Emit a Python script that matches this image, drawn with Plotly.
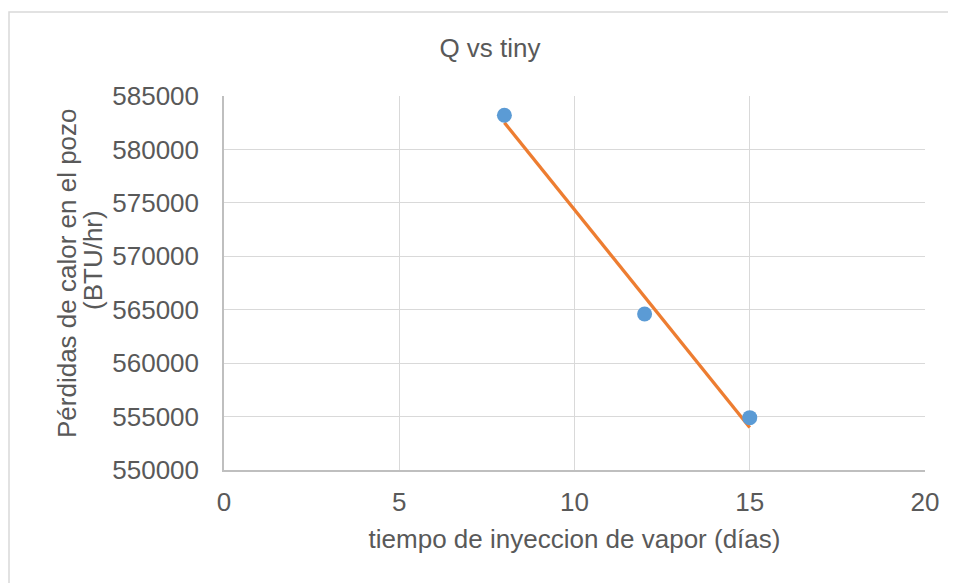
import numpy as np
import plotly.graph_objects as go

# Data
x_days = [8, 12, 15]
q_loss = [583200, 564600, 554900]

title_text = "Q vs tiny"
x_title = "tiempo de inyeccion de vapor (días)"
y_title_lines = ["Pérdidas de calor en el pozo", "(BTU/hr)"]

x_ticks = [0, 5, 10, 15, 20]
y_ticks = [550000, 555000, 560000, 565000, 570000, 575000, 580000, 585000]

# Linear trendline (least squares) from the data
slope, intercept = np.polyfit(x_days, q_loss, 1)
trend_x = [min(x_days), max(x_days)]
trend_y = [slope * v + intercept for v in trend_x]

# page body has an 8px margin, so the figure is sized/offset to compensate
W, H = 948, 575
L, R, T, B = 216, 31, 88, 113
pw, ph = W - L - R, H - T - B

FONT = "Liberation Sans, Arial, sans-serif"
TXT = "#595959"
FS = 26

fig = go.Figure()
fig.add_trace(go.Scatter(x=trend_x, y=trend_y, mode="lines",
                         line=dict(color="#ED7D31", width=3.3), showlegend=False))
fig.add_trace(go.Scatter(x=x_days, y=q_loss, mode="markers",
                         marker=dict(color="#5B9BD5", size=15), showlegend=False))

def px_x(p):
    return (p - L) / pw

def px_y(p):
    return (H - B - p) / ph

annotations = []
for xc, yc, txt in zip([59, 85], [265, 252], y_title_lines):
    annotations.append(dict(text=txt, xref="paper", yref="paper",
                            x=px_x(xc), y=px_y(yc), xanchor="center", yanchor="middle",
                            textangle=-90, showarrow=False,
                            font=dict(family=FONT, size=FS, color=TXT)))

fig.update_layout(
    width=W, height=H,
    margin=dict(l=L, r=R, t=T, b=B),
    paper_bgcolor="white", plot_bgcolor="white",
    font=dict(family=FONT, size=FS, color=TXT),
    title=dict(text=title_text, x=482 / W, xanchor="center",
               y=1 - 40 / H, yanchor="middle",
               font=dict(family=FONT, size=FS, color=TXT)),
    xaxis=dict(range=[0, 20], tickvals=x_ticks, showgrid=True, gridcolor="#D9D9D9",
               gridwidth=1, zeroline=False, showline=True, linecolor="#BFBFBF",
               linewidth=1.5, ticks="", ticklabelstandoff=8,
               tickfont=dict(size=FS, color=TXT),
               title=dict(text=x_title, standoff=14, font=dict(size=FS, color=TXT))),
    yaxis=dict(range=[550000, 585000], tickvals=y_ticks, showgrid=True,
               gridcolor="#D9D9D9", gridwidth=1, zeroline=False, showline=True,
               linecolor="#BFBFBF", linewidth=1.5, ticks="", tickformat="d",
               ticklabelstandoff=18, tickfont=dict(size=FS, color=TXT)),
    annotations=annotations,
    shapes=[dict(type="rect", xref="paper", yref="paper",
                 x0=px_x(1), x1=px_x(1000), y0=px_y(1000), y1=px_y(4),
                 line=dict(color="#D9D9D9", width=1.5), fillcolor="rgba(0,0,0,0)",
                 layer="below")],
)

fig.write_html("out.html")
